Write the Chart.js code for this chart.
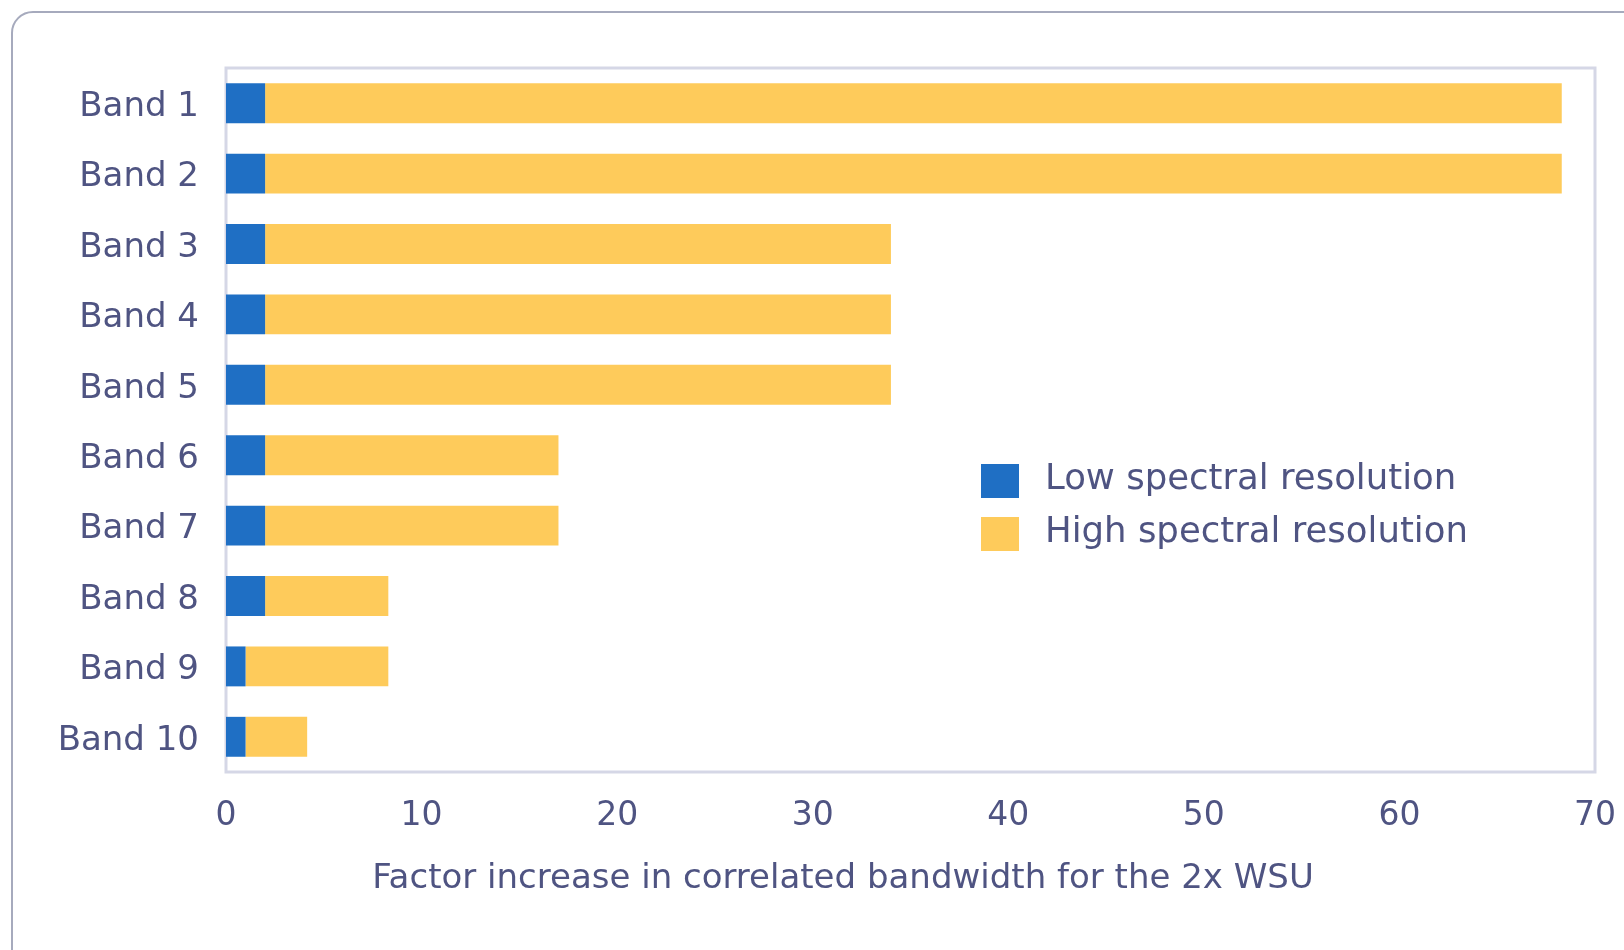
<!DOCTYPE html>
<html>
<head>
<meta charset="utf-8">
<script src="https://cdn.jsdelivr.net/npm/chart.js@4/dist/chart.umd.min.js"></script>
<style>
  html, body { margin: 0; padding: 0; background: #ffffff; overflow: hidden; }
  #wrap { position: relative; width: 1624px; height: 950px; }
  #frame {
    position: absolute; left: 11px; top: 11px; width: 1700px; height: 1100px;
    border: 2.5px solid #a6aabd; border-radius: 22px; box-sizing: border-box;
  }
  canvas { position: absolute; left: 0; top: 0; }
</style>
</head>
<body>
<div id="wrap">
  <div id="frame"></div>
  <canvas id="c" width="1624" height="950"></canvas>
</div>
<script>
// Receiver bands and correlated-bandwidth gain factors
const bands = ['Band 1', 'Band 2', 'Band 3', 'Band 4', 'Band 5',
               'Band 6', 'Band 7', 'Band 8', 'Band 9', 'Band 10'];
const lowRes = [2, 2, 2, 2, 2, 2, 2, 2, 1, 1];
const highResExtra = [66.3, 66.3, 32, 32, 32, 15, 15, 6.3, 7.3, 3.15];
const seriesNames = ['Low spectral resolution', 'High spectral resolution'];
const xTicks = [0, 10, 20, 30, 40, 50, 60, 70];
const axisTitle = 'Factor increase in correlated bandwidth for the 2x WSU';

const BLUE = '#1f6fc4';
const YELLOW = '#fecb5b';
const TEXT = '#4f5482';
const FONT = "'DejaVu Sans', sans-serif";

// Light frame around the plotting area
const plotFrame = {
  id: 'plotFrame',
  beforeDatasetsDraw(chart) {
    const a = chart.chartArea, ctx = chart.ctx;
    ctx.save();
    ctx.strokeStyle = '#d5d7e6';
    ctx.lineWidth = 3;
    ctx.strokeRect(a.left, a.top, a.right - a.left, a.bottom - a.top);
    ctx.restore();
  }
};

// Legend inside the plot plus the x-axis caption
const overlay = {
  id: 'overlay',
  afterDraw(chart) {
    const a = chart.chartArea, ctx = chart.ctx;
    ctx.save();
    ctx.font = '35.5px ' + FONT;
    ctx.textBaseline = 'middle';
    ctx.textAlign = 'left';
    const bx = a.left + 755, by = a.top + 396, rowGap = 53, bh = 34;
    chart.data.datasets.forEach((ds, i) => {
      ctx.fillStyle = ds.backgroundColor;
      ctx.fillRect(bx, by + i * rowGap, 38, bh);
      ctx.fillStyle = TEXT;
      ctx.fillText(ds.label, bx + 64, by + i * rowGap + bh / 2 - 1);
    });
    ctx.font = '34px ' + FONT;
    ctx.textAlign = 'center';
    ctx.fillText(axisTitle, 843, 879);
    ctx.restore();
  }
};

new Chart(document.getElementById('c'), {
  type: 'bar',
  data: {
    labels: bands,
    datasets: [
      { label: seriesNames[0], data: lowRes, backgroundColor: BLUE },
      { label: seriesNames[1], data: highResExtra, backgroundColor: YELLOW }
    ]
  },
  options: {
    indexAxis: 'y',
    responsive: false,
    animation: false,
    events: [],
    layout: { padding: { top: 68, right: 29, left: 0, bottom: 0 } },
    datasets: { bar: { categoryPercentage: 1, barPercentage: 0.567, borderWidth: 0 } },
    plugins: { legend: { display: false }, tooltip: { enabled: false } },
    scales: {
      x: {
        stacked: true,
        min: 0, max: 70,
        afterBuildTicks(s) { s.ticks = xTicks.map(v => ({ value: v })); },
        grid: { display: false, drawTicks: false },
        border: { display: false },
        ticks: { color: TEXT, font: { family: FONT, size: 33 }, padding: 25, maxRotation: 0 },
        afterFit(s) { s.height = 178; s.paddingLeft = 0; s.paddingRight = 0; }
      },
      y: {
        stacked: true,
        grid: { display: false, drawTicks: false },
        border: { display: false },
        ticks: { color: TEXT, font: { family: FONT, size: 34 }, padding: 27, labelOffset: 4 },
        afterFit(s) { s.width = 226; s.paddingTop = 0; s.paddingBottom = 0; }
      }
    }
  },
  plugins: [plotFrame, overlay]
});
</script>
</body>
</html>
